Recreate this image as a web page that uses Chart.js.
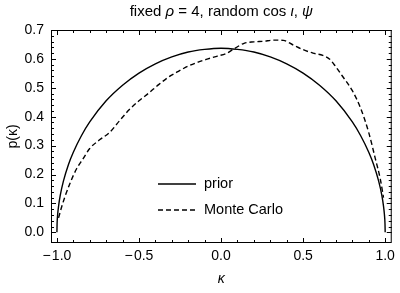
<!DOCTYPE html>
<html>
<head>
<meta charset="utf-8">
<script src="https://cdn.jsdelivr.net/npm/chart.js@4.4.0/dist/chart.umd.min.js"></script>
<style>
  html, body { margin: 0; padding: 0; background: #fff; }
  #wrap { width: 400px; height: 293px; }
</style>
</head>
<body>
<div id="wrap"><canvas id="chart" width="400" height="293"></canvas></div>
<script>
// prior curve
const priorK = [-1, -0.999, -0.995, -0.99, -0.98, -0.96, -0.93, -0.9, -0.85, -0.8, -0.7, -0.6, -0.5, -0.4, -0.3, -0.2, -0.1, 0,
  0.1, 0.2, 0.3, 0.4, 0.5, 0.6, 0.7, 0.8, 0.85, 0.9, 0.93, 0.96, 0.98, 0.99, 0.995, 0.999, 1];
const priorP = [0, 0.028, 0.064, 0.090, 0.127, 0.178, 0.234, 0.277, 0.335, 0.382, 0.455, 0.509, 0.551, 0.583, 0.607, 0.624, 0.633, 0.637,
  0.633, 0.624, 0.607, 0.583, 0.551, 0.509, 0.455, 0.382, 0.335, 0.277, 0.234, 0.178, 0.127, 0.090, 0.064, 0.028, 0];

// Monte Carlo curve
const mcK = [-0.99, -0.97, -0.95, -0.92, -0.88, -0.84, -0.8, -0.74, -0.68, -0.62, -0.56, -0.5, -0.44, -0.38, -0.32, -0.26, -0.2, -0.14, -0.08, -0.02,
  0.03, 0.08, 0.14, 0.2, 0.26, 0.32, 0.38, 0.44, 0.5, 0.56, 0.62, 0.66, 0.7, 0.74, 0.8, 0.85, 0.9, 0.94, 0.97, 0.99];
const mcP = [0.05, 0.09, 0.125, 0.17, 0.22, 0.255, 0.29, 0.32, 0.345, 0.385, 0.424, 0.455, 0.482, 0.511, 0.537, 0.557, 0.575, 0.589, 0.600, 0.610,
  0.618, 0.635, 0.654, 0.659, 0.661, 0.665, 0.664, 0.648, 0.632, 0.620, 0.612, 0.600, 0.572, 0.540, 0.490, 0.430, 0.345, 0.255, 0.185, 0.12];

const xTicks = [-1, -0.5, 0, 0.5, 1];
const yTicks = [0, 0.1, 0.2, 0.3, 0.4, 0.5, 0.6, 0.7];
const seriesNames = ['prior', 'Monte Carlo'];

const FONT = '"Liberation Sans", Arial, sans-serif';

function pairs(xs, ys) {
  return xs.map((x, i) => ({ x: x, y: ys[i] }));
}

// frame, inward ticks on all sides, title, legend
const framePlugin = {
  id: 'frame',
  afterDraw(chart) {
    const { ctx, chartArea: a, scales } = chart;
    const xs = scales.x, ys = scales.y;
    ctx.save();
    ctx.strokeStyle = '#000';
    ctx.lineWidth = 1;
    ctx.strokeRect(a.left + 0.5, a.top + 0.5, a.right - a.left - 1, a.bottom - a.top - 1);

    ctx.beginPath();
    for (let i = -10; i <= 10; i++) {
      const v = i / 10;
      const px = Math.round(xs.getPixelForValue(v)) + 0.5;
      const len = (i % 5 === 0) ? 5 : 3;
      ctx.moveTo(px, a.bottom); ctx.lineTo(px, a.bottom - len);
      ctx.moveTo(px, a.top); ctx.lineTo(px, a.top + len);
    }
    for (let i = 0; i <= 35; i++) {
      const v = i / 50;
      const py = Math.round(ys.getPixelForValue(v)) + 0.5;
      const len = (i % 5 === 0) ? 5 : 3;
      ctx.moveTo(a.left, py); ctx.lineTo(a.left + len, py);
      ctx.moveTo(a.right, py); ctx.lineTo(a.right - len, py);
    }
    ctx.stroke();

    // title with italic symbols
    const parts = [['fixed ', ''], ['ρ', 'italic '], [' = 4, random cos ', ''], ['ι', 'italic '], [', ', ''], ['ψ', 'italic ']];
    let total = 0;
    parts.forEach(p => { ctx.font = p[1] + '15px ' + FONT; total += ctx.measureText(p[0]).width; });
    let tx = (a.left + a.right) / 2 - total / 2;
    ctx.fillStyle = '#000';
    ctx.textBaseline = 'middle';
    parts.forEach(p => {
      ctx.font = p[1] + '15px ' + FONT;
      ctx.fillText(p[0], tx, 12);
      tx += ctx.measureText(p[0]).width;
    });

    // legend inside the plot
    ctx.font = '14.5px ' + FONT;
    const lx0 = 158, lx1 = 196;
    const rows = [184, 210];
    chart.data.datasets.forEach((ds, i) => {
      ctx.beginPath();
      ctx.lineWidth = 1.3;
      ctx.setLineDash(ds.borderDash || []);
      ctx.moveTo(lx0, rows[i]); ctx.lineTo(lx1, rows[i]);
      ctx.stroke();
      ctx.setLineDash([]);
      ctx.fillText(seriesNames[i], 204, rows[i]);
    });
    ctx.restore();
  }
};

new Chart(document.getElementById('chart'), {
  type: 'line',
  data: {
    datasets: [
      {
        label: seriesNames[0],
        data: pairs(priorK, priorP),
        borderColor: '#000',
        borderWidth: 1.4,
        pointRadius: 0,
        cubicInterpolationMode: 'monotone',
        fill: false
      },
      {
        label: seriesNames[1],
        data: pairs(mcK, mcP),
        borderColor: '#000',
        borderWidth: 1.4,
        borderDash: [5, 3],
        pointRadius: 0,
        cubicInterpolationMode: 'monotone',
        fill: false
      }
    ]
  },
  options: {
    responsive: false,
    animation: false,
    layout: { padding: { top: 30, right: 5, left: 0, bottom: 0 } },
    plugins: {
      legend: { display: false },
      title: { display: false },
      tooltip: { enabled: false }
    },
    scales: {
      x: {
        type: 'linear',
        min: -1.036,
        max: 1.04,
        afterBuildTicks: s => { s.ticks = xTicks.map(v => ({ value: v })); },
        afterFit: s => { s.height = 50; },
        grid: { display: false, drawTicks: false },
        border: { display: false },
        ticks: {
          color: '#000',
          padding: 5,
          maxRotation: 0,
          font: { family: FONT, size: 14 },
          callback: v => (v < 0 ? '\u2212\u200A' : '') + Math.abs(v).toFixed(1)
        },
        title: {
          display: true,
          text: 'κ',
          color: '#000',
          font: { family: FONT, size: 14, style: 'italic' },
          padding: { top: 4, bottom: 5 }
        }
      },
      y: {
        min: -0.037,
        max: 0.7,
        afterBuildTicks: s => { s.ticks = yTicks.map(v => ({ value: v })); },
        afterFit: s => { s.width = 51; },
        grid: { display: false, drawTicks: false },
        border: { display: false },
        ticks: {
          color: '#000',
          padding: 7,
          font: { family: FONT, size: 14 },
          callback: v => v.toFixed(1)
        },
        title: {
          display: true,
          text: 'p(κ)',
          color: '#000',
          font: { family: FONT, size: 14 },
          padding: { top: 5, bottom: 0 }
        }
      }
    }
  },
  plugins: [framePlugin]
});
</script>
</body>
</html>
